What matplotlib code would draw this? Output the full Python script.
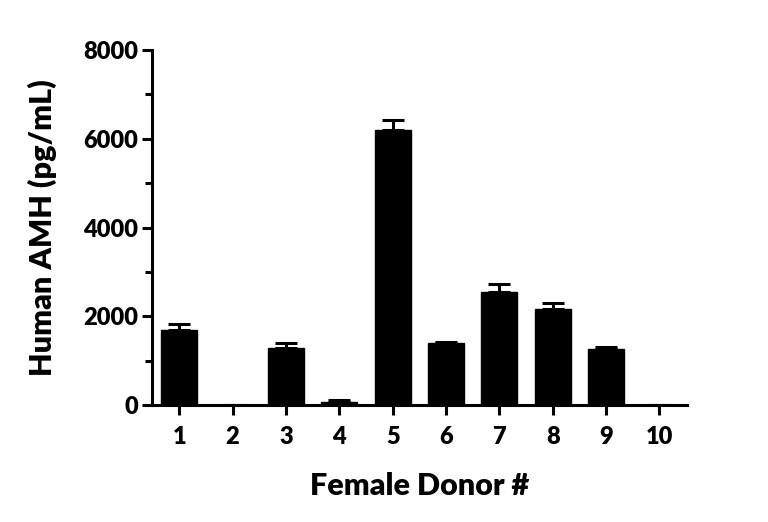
import matplotlib
matplotlib.use('Agg')
import matplotlib.pyplot as plt
from matplotlib.ticker import MultipleLocator

# donor values (pg/mL) and error bars
donors = ['1', '2', '3', '4', '5', '6', '7', '8', '9', '10']
amh = [1700, 0, 1290, 75, 6190, 1390, 2550, 2170, 1260, 0]
amh_err = [125, 0, 110, 45, 230, 35, 170, 140, 40, 0]

plt.rcParams['font.family'] = ['Lato', 'DejaVu Sans']
plt.rcParams['font.weight'] = 'heavy'

fig = plt.figure(figsize=(7.68, 5.22), dpi=100)
ax = fig.add_axes([0.198, 0.224, 0.696, 0.680])

pos = list(range(1, len(donors) + 1))
ax.bar(pos, amh, width=0.67, color='black', edgecolor='black')
ax.errorbar(pos, amh, yerr=[[0] * len(amh), amh_err], fmt='none',
            ecolor='black', elinewidth=2.2, capsize=8, capthick=2.2)

ax.set_xlim(0.49, 10.51)
ax.set_ylim(0, 8000)
ax.set_xticks(pos)
ax.set_xticklabels(donors)
ax.yaxis.set_major_locator(MultipleLocator(2000))
ax.yaxis.set_minor_locator(MultipleLocator(1000))

for s in ['top', 'right']:
    ax.spines[s].set_visible(False)
for s in ['left', 'bottom']:
    ax.spines[s].set_linewidth(2.2)

ax.tick_params(axis='both', which='major', width=2.2, length=7, labelsize=17, pad=3)
ax.tick_params(axis='x', which='major', pad=8)
ax.tick_params(axis='y', which='minor', width=2.2, length=5)
for lab in ax.get_xticklabels() + ax.get_yticklabels():
    lab.set_fontweight('heavy')

ax.set_xlabel('Female Donor #', fontsize=22, fontweight='heavy', labelpad=17)
ax.set_ylabel('Human AMH (pg/mL)', fontsize=22, fontweight='heavy', labelpad=19)

fig.savefig('out.png', dpi=100)
